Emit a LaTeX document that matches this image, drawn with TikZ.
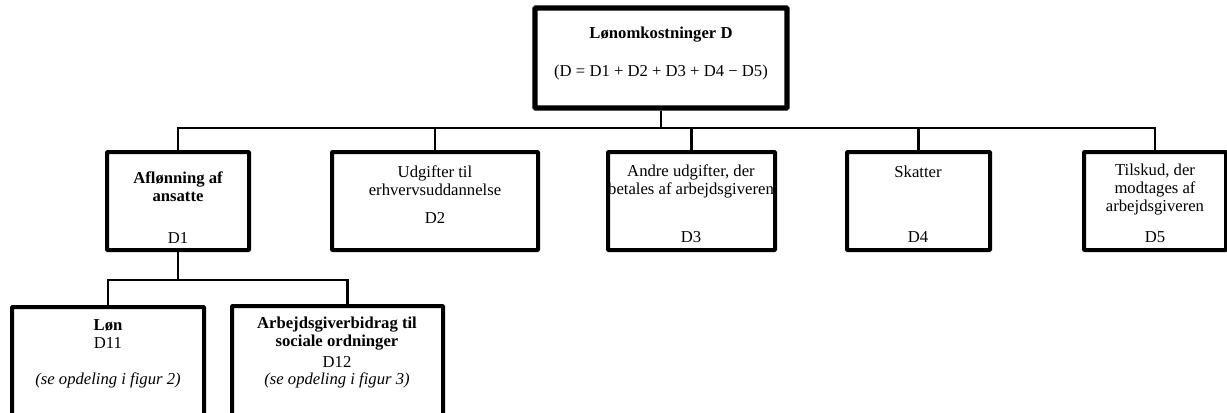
\documentclass[tikz,border=0pt]{standalone}
\usepackage{fontspec}
\setmainfont{Liberation Serif}
\usetikzlibrary{fit}
\begin{document}
\begin{tikzpicture}[x=0.75pt,y=-0.75pt,
  box/.style={draw, line width=3pt, inner sep=0pt, rounded corners=0.6pt},
  topbox/.style={box, line width=3.8pt},
  conn/.style={line width=2.2pt},
  txt/.style={inner sep=0pt, align=center, font=\fontsize{12.5}{13.5}\selectfont},
  btxt/.style={txt, font=\fontsize{12.5}{13.5}\selectfont\bfseries},
  itxt/.style={txt, font=\fontsize{12.5}{13.5}\selectfont\itshape}]
\useasboundingbox (0,0) rectangle (1227,412);
\clip (0,0) rectangle (1227,412);
% texts
\node[btxt] (t0a) at (661,35) {Lønomkostninger D};
\node[txt] (t0b) at (661,72) {(D = D1 + D2 + D3 + D4 − D5)};
\node[btxt] (t1a) at (178,187) {Aflønning af\\ansatte};
\node[txt] (t1b) at (178,238) {D1};
\node[txt] (t2a) at (435,181) {Udgifter til\\erhvervsuddannelse};
\node[txt] (t2b) at (435,218) {D2};
\node[txt] (t3a) at (691,181) {Andre udgifter, der\\betales af arbejdsgiveren};
\node[txt] (t3b) at (691,237) {D3};
\node[txt] (t4a) at (918,172) {Skatter};
\node[txt] (t4b) at (918,237) {D4};
\node[txt] (t5a) at (1155,190) {Tilskud, der\\modtages af\\arbejdsgiveren};
\node[txt] (t5b) at (1155,237) {D5};
\node[btxt] (t11a) at (108,325) {Løn};
\node[txt] (t11b) at (108,343) {D11};
\node[itxt] (t11c) at (108,380) {(se opdeling i figur 2)};
\node[btxt] (t12a) at (337,334) {Arbejdsgiverbidrag til\\sociale ordninger};
\node[txt] (t12b) at (337,362) {D12};
\node[itxt] (t12c) at (337,380) {(se opdeling i figur 3)};
% boxes
\node[topbox, fit={(535,8)(787,108)}] (top) {};
\node[box, fit={(107,152)(249,250)}] (d1) {};
\node[box, fit={(332,152)(538,250)}] (d2) {};
\node[box, fit={(608,152)(775,250)}] (d3) {};
\node[box, fit={(847,152)(990,250)}] (d4) {};
\node[box, fit={(1084,152)(1226,250)}] (d5) {};
\node[box, fit={(12,307)(204,440)}] (d11) {};
\node[box, fit={(232,306)(443,440)}] (d12) {};
\coordinate (bar1) at (0,128);
\coordinate (bar2) at (0,280);
% connectors
\draw[conn] (top.south) -- (top.south |- bar1);
\draw[conn] (d1.north) -- (d1.north |- bar1) -- (d5.north |- bar1) -- (d5.north);
\draw[conn] (d2.north) -- (d2.north |- bar1);
\draw[conn] (d3.north) -- (d3.north |- bar1);
\draw[conn] (d4.north) -- (d4.north |- bar1);
\draw[conn] (d1.south) -- (d1.south |- bar2);
\coordinate (d12top) at ([xshift=7.5pt]d12.north);
\draw[conn] (d11.north) -- (d11.north |- bar2) -- (d12top |- bar2) -- (d12top);
\end{tikzpicture}
\end{document}
